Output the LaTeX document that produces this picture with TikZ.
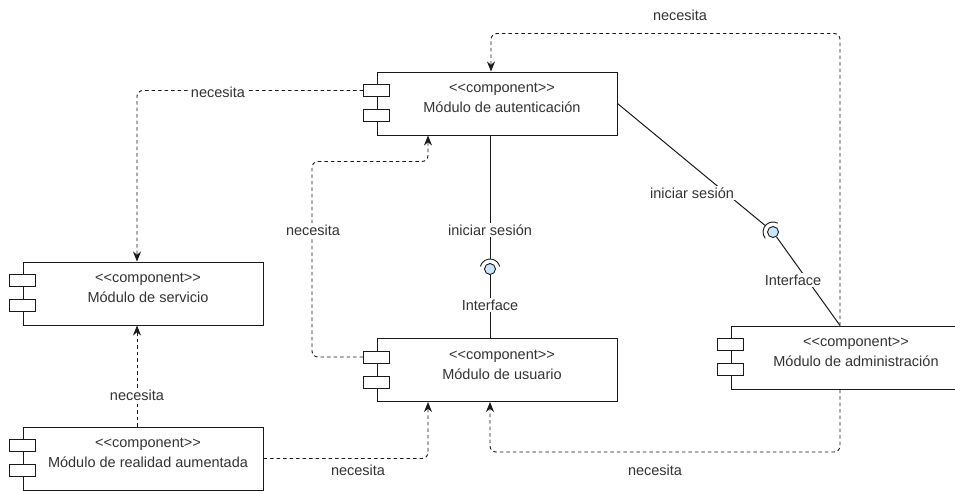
\documentclass[tikz,border=0pt]{standalone}
\usepackage{fontspec}
\setmainfont{Liberation Sans}
\usetikzlibrary{arrows.meta,calc}
\definecolor{ln}{HTML}{1A1A1A}
\definecolor{tx}{HTML}{333333}
\definecolor{lolli}{HTML}{CCE5FF}
\newcommand\stereo{<\kern0pt<component>\kern0pt>}
\newcommand\mkcomp[4]{%
  \node[compbox] (#1) at (#2,#3) {};
  \node[ctext] (#1-s) at ([shift={(5,-14)}]#1.center) {\stereo};
  \node[ctext] (#1-n) at ([shift={(5,4)}]#1.center) {#4};
  \node[tabbox] (#1-a) at ([shift={(0,19)}]#1.north west) {};
  \node[tabbox] (#1-b) at ([shift={(0,44)}]#1.north west) {};
}
\begin{document}
\begin{tikzpicture}[x=1pt,y=-1pt,
  compbox/.style={draw=ln, fill=white, line width=1pt, minimum width=240pt, minimum height=63pt, inner sep=0pt},
  tabbox/.style={draw=ln, fill=white, line width=1pt, minimum width=26pt, minimum height=12pt, inner sep=0pt},
  ctext/.style={text=tx, font=\fontsize{14.5}{17}\selectfont, inner sep=0pt},
  dep/.style={draw=ln, dash pattern=on 3.5pt off 3pt, line width=0.9pt, rounded corners=6pt, -{Stealth[length=10pt,width=8pt]}},
  lbl/.style={text=tx, font=\fontsize{14.5}{17}\selectfont, fill=white, inner sep=1.5pt},
  sol/.style={draw=ln, line width=1pt},
  lolly/.style={circle, draw=ln, fill=lolli, line width=0.9pt, minimum size=11pt, inner sep=0pt}
]
\useasboundingbox (0,0) rectangle (955,490);

\mkcomp{auth}{497}{103.5}{Módulo de autenticación}
\mkcomp{serv}{143}{293.5}{Módulo de servicio}
\mkcomp{user}{497}{370}{Módulo de usuario}
\mkcomp{admin}{851}{357.5}{Módulo de administración}
\mkcomp{ar}{143}{458.5}{Módulo de realidad aumentada}

% lollipops
\node[lolly] (lp1) at (490,269) {};
\node[lolly] (lp2) at (773,232) {};
\draw[line width=0.9pt, draw=ln] (lp1.center) ++(195:10) arc[start angle=195, end angle=345, radius=10];
\draw[line width=0.9pt, draw=ln] (lp2.center) ++(140:10) arc[start angle=140, end angle=298, radius=10];
\coordinate (s1) at ([shift={(0,-10)}]lp1.center);
\coordinate (s2) at ($(lp2.center)!10pt!(auth.east)$);

% solid interface lines
\draw[sol] ([xshift=-7pt]auth.south) -- (s1);
\draw[sol] (lp1.south) -- ([xshift=-7pt]user.north);
\draw[sol] (auth.east) -- (s2);
\draw[sol] (lp2) -- ([xshift=-11pt]admin.north);
\node[lbl] (l1) at (490,230) {iniciar sesión};
\node[lbl] (l2) at (490,305) {Interface};
\node[lbl] (l3) at (692,193) {iniciar sesión};
\node[lbl] (l4) at (793,280) {Interface};

% dependencies
\draw[dep] (auth-a.west) -| ([xshift=-6pt]serv.north);
\node[lbl] (d1) at (218,92) {necesita};

\draw[dep] (user-a.west) -- ++(-51,0) |- ([shift={(-69,26)}]auth.south) -- ([xshift=-69pt]auth.south);
\node[lbl] (d2) at (313,230) {necesita};

\draw[dep] ([xshift=-11pt]admin.north) |- ([shift={(-6,-38)}]auth.north) -- ([xshift=-6pt]auth.north);
\node[lbl] (d3) at (680,15) {necesita};

\draw[dep] ([xshift=-11pt]admin.south) |- ([shift={(-7,50)}]user.south) -- ([xshift=-7pt]user.south);
\node[lbl] (d4) at (655,470) {necesita};

\draw[dep] ([xshift=-6pt]ar.north) -- ([xshift=-6pt]serv.south);
\node[lbl] (d5) at (137,395) {necesita};

\draw[dep] (ar.east) -| ([xshift=-69pt]user.south);
\node[lbl] (d6) at (358,470) {necesita};

% redraw tabs on top of dashed lines
\node[tabbox] at (user-a) {};
\node[tabbox] at (auth-a) {};
\end{tikzpicture}
\end{document}
